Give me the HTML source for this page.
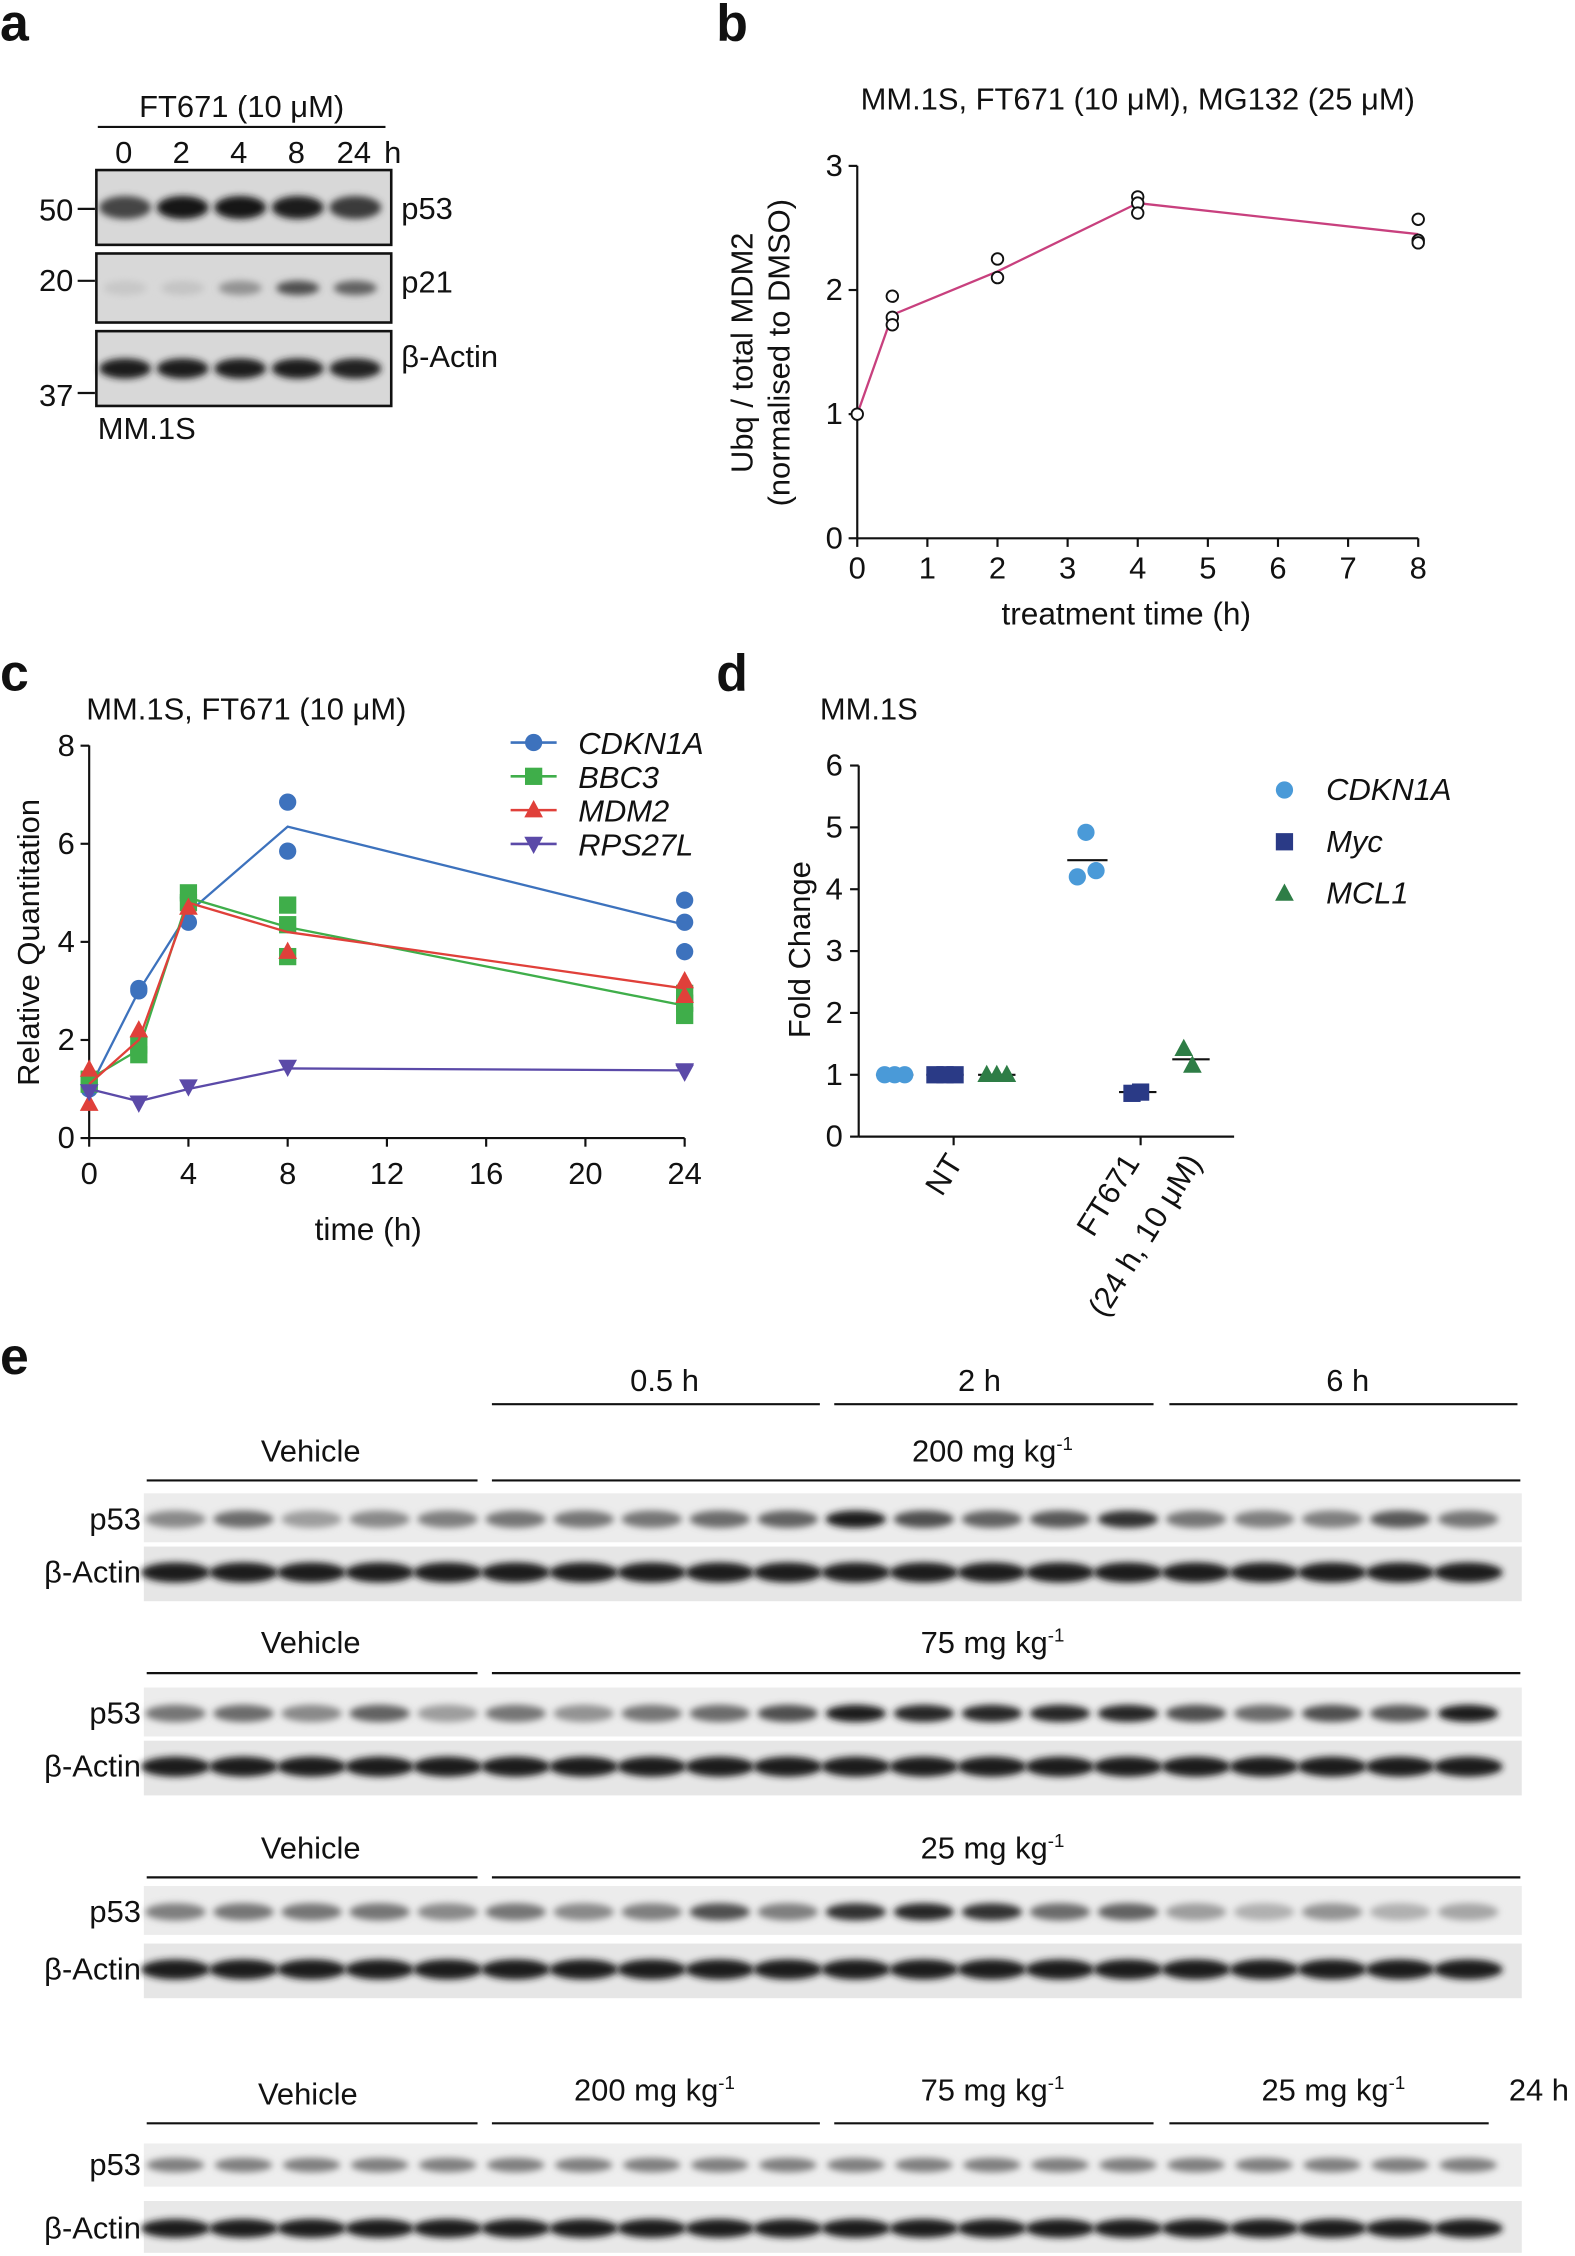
<!DOCTYPE html>
<html><head><meta charset="utf-8"><style>
html,body{margin:0;padding:0;background:#fff}
svg{display:block}
text{font-family:"Liberation Sans",sans-serif;fill:#111}
</style></head><body>
<svg id="s" width="1575" height="2256" viewBox="0 0 1095 1568" xmlns="http://www.w3.org/2000/svg">
<defs>
<filter id="bl" x="-50%" y="-100%" width="200%" height="300%"><feGaussianBlur stdDeviation="2.4"/></filter>
</defs>
<g id="g"></g>
</svg>
<script>
const g=document.getElementById('g');let h='';
function T(x,y,t,sz,anc,ext){h+=`<text x="${x}" y="${y}" font-size="${sz}" text-anchor="${anc||'start'}" ${ext||''}>${t}</text>`;}
function L(x1,y1,x2,y2,c,w){h+=`<line x1="${x1}" y1="${y1}" x2="${x2}" y2="${y2}" stroke="${c||'#111'}" stroke-width="${w||1.5}"/>`;}
function band(cx,cy,rx,ry,d){const v=Math.round(215-d*195);h+=`<ellipse cx="${cx}" cy="${cy}" rx="${rx}" ry="${ry}" fill="rgb(${v},${v},${v})" filter="url(#bl)"/>`;}
T(0,28,'a',36,'start','font-weight="bold"');T(498,28,'b',36,'start','font-weight="bold"');
T(0,480,'c',36,'start','font-weight="bold"');T(498,480,'d',36,'start','font-weight="bold"');
T(0,955,'e',36,'start','font-weight="bold"');
// panel a
T(168,81,'FT671 (10 μM)',21.5,'middle');L(68,88,268,88);
[0,2,4,8,24].forEach((t,i)=>T(86+i*40,113,t,21.5,'middle'));T(273,113,'h',21.5,'middle');
const rows=[[118,170,[.75,1,.98,.97,.8],18,8],[176,224,[.08,.1,.35,.7,.6],15,5],[230,282,[.95,.95,.95,.95,.93],18,7]];
rows.forEach(r=>{h+=`<rect x="67" y="${r[0]}" width="205" height="${r[1]-r[0]}" fill="#d8d8d8" stroke="#111" stroke-width="1.8"/>`;
 r[2].forEach((d,i)=>band(87+i*40,(r[0]+r[1])/2,r[3],r[4],d));});
T(51,153,'50',21.5,'end');L(54,145,66,145);T(51,202,'20',21.5,'end');L(54,195,66,195);T(51,282,'37',21.5,'end');L(54,273,66,273);
T(279,152,'p53',21.5);T(279,203,'p21',21.5);T(279,255,'β-Actin',21.5);T(68,305,'MM.1S',21.5);
// panel b
T(791,76,'MM.1S, FT671 (10 μM), MG132 (25 μM)',21.5,'middle');
const bx=v=>596+v*48.75, by=v=>374-v*86.3;
L(596,115,596,374);L(596,374,986,374);
for(let i=0;i<=3;i++){L(590,by(i),596,by(i));T(586,by(i)+7,i,21.5,'end');}
for(let i=0;i<=8;i++){L(bx(i),374,bx(i),380);T(bx(i),402,i,21.5,'middle');}
T(783,434,'treatment time (h)',22,'middle');
h+=`<text transform="translate(523,245) rotate(-90)" font-size="21.5" text-anchor="middle">Ubq / total MDM2</text>`;
h+=`<text transform="translate(549,245) rotate(-90)" font-size="21.5" text-anchor="middle">(normalised to DMSO)</text>`;
h+=`<polyline fill="none" stroke="#c8407e" stroke-width="1.6" points="${bx(0)},${by(1)} ${bx(.5)},${by(1.8)} ${bx(2)},${by(2.15)} ${bx(4)},${by(2.7)} ${bx(8)},${by(2.45)}"/>`;
[[0,1],[.5,1.95],[.5,1.78],[.5,1.72],[2,2.25],[2,2.1],[4,2.75],[4,2.7],[4,2.62],[8,2.57],[8,2.4],[8,2.38]].forEach(p=>h+=`<circle cx="${bx(p[0])}" cy="${by(p[1])}" r="4" fill="#fff" stroke="#111" stroke-width="1.3"/>`);
// panel c
T(60,500,'MM.1S, FT671 (10 μM)',21.5);
const cx=v=>62+v*17.25, cy=v=>791-v*34.1;
L(62,518,62,791);L(62,791,476,791);
for(let i=0;i<=8;i+=2){L(56,cy(i),62,cy(i));T(52,cy(i)+7,i,21.5,'end');}
for(let i=0;i<=24;i+=4){L(cx(i),791,cx(i),797);T(cx(i),823,i,21.5,'middle');}
T(256,862,'time (h)',22,'middle');
h+=`<text transform="translate(27,655) rotate(-90)" font-size="21.5" text-anchor="middle">Relative Quantitation</text>`;
function mk(t,x,y,c){if(t==0)h+=`<circle cx="${x}" cy="${y}" r="6" fill="${c}"/>`;
 else if(t==1)h+=`<rect x="${x-6}" y="${y-6}" width="12" height="12" fill="${c}"/>`;
 else if(t==2)h+=`<polygon points="${x},${y-7} ${x-6.5},${y+5} ${x+6.5},${y+5}" fill="${c}"/>`;
 else h+=`<polygon points="${x},${y+7} ${x-6.5},${y-5} ${x+6.5},${y-5}" fill="${c}"/>`;}
const S=[['#3d72bd',[[0,1],[2,3],[4,4.6],[8,6.35],[24,4.35]],[[0,1],[0,1.1],[2,3],[2,3.05],[4,4.4],[4,4.9],[8,6.85],[8,5.85],[24,4.85],[24,4.4],[24,3.8]]],
['#3fae4a',[[0,1.2],[2,1.8],[4,4.9],[8,4.3],[24,2.7]],[[0,1.1],[0,1.2],[2,1.7],[2,1.9],[4,4.8],[4,5],[8,4.75],[8,4.35],[8,3.7],[24,2.95],[24,2.75],[24,2.5]]],
['#e0403a',[[0,1.1],[2,2],[4,4.8],[8,4.2],[24,3.05]],[[0,1.4],[0,.7],[2,2.2],[4,4.7],[8,3.8],[24,3.2],[24,2.9]]],
['#5b4aa8',[[0,1],[2,.75],[4,1],[8,1.42],[24,1.38]],[[0,.95],[2,.72],[4,1.05],[8,1.45],[24,1.38],[24,1.35]]]];
S.forEach((s,k)=>{h+=`<polyline fill="none" stroke="${s[0]}" stroke-width="1.6" points="${s[1].map(p=>cx(p[0])+','+cy(p[1])).join(' ')}"/>`;s[2].forEach(p=>mk(k,cx(p[0]),cy(p[1]),s[0]));});
['CDKN1A','BBC3','MDM2','RPS27L'].forEach((n,k)=>{const y=516+k*23.5;L(355,y,387,y,S[k][0],1.8);mk(k,371,y,S[k][0]);T(402,y+8,n,21.5,'start','font-style="italic"');});
// panel d
T(570,500,'MM.1S',21.5);
const dy=v=>790-v*43;
L(597,532,597,790);L(597,790,858,790);
for(let i=0;i<=6;i++){L(591,dy(i),597,dy(i));T(586,dy(i)+7,i,21.5,'end');}
L(663,790,663,796);L(793,790,793,796);
h+=`<text transform="translate(563,660) rotate(-90)" font-size="21.5" text-anchor="middle">Fold Change</text>`;
h+=`<text transform="translate(670,808) rotate(-58)" font-size="21.5" text-anchor="end">NT</text>`;
h+=`<text transform="translate(793,808) rotate(-58)" font-size="21.5" text-anchor="end">FT671</text>`;
h+=`<text transform="translate(836,808) rotate(-58)" font-size="21.5" text-anchor="end">(24 h, 10 μM)</text>`;
const dc=['#4a9ad8','#2a3a86','#2e7d46'];
[[622,[1,1,1]],[657,[1,1,1]],[693,[1,1,1]]].forEach((p,k)=>{L(p[0]-13,dy(1),p[0]+13,dy(1));[-7,0,7].forEach(o=>mk(k==0?0:k==1?1:2,p[0]+o,dy(1),dc[k]));});
L(742,dy(4.47),770,dy(4.47));mk(0,749,dy(4.2),dc[0]);mk(0,755,dy(4.92),dc[0]);mk(0,762,dy(4.3),dc[0]);
L(778,dy(.72),804,dy(.72));mk(1,787,dy(.7),dc[1]);mk(1,793,dy(.72),dc[1]);
L(815,dy(1.25),841,dy(1.25));mk(2,823,dy(1.42),dc[2]);mk(2,829,dy(1.15),dc[2]);
mk(0,893,549,dc[0]);T(922,556,'CDKN1A',21.5,'start','font-style="italic"');
mk(1,893,585,dc[1]);T(922,592,'Myc',21.5,'start','font-style="italic"');
mk(2,893,621,dc[2]);T(922,628,'MCL1',21.5,'start','font-style="italic"');
// panel e
const lx=i=>122+i*47.3;
T(462,967,'0.5 h',21.5,'middle');T(681,967,'2 h',21.5,'middle');T(937,967,'6 h',21.5,'middle');
L(342,976,570,976);L(580,976,802,976);L(813,976,1055,976);
function blot(labY,lab,lineY,pY,aY,pd){
 T(216,labY,'Vehicle',21.5,'middle');T(690,labY,lab,21.5,'middle');L(102,lineY,332,lineY);L(342,lineY,1057,lineY);
 h+=`<rect x="100" y="${pY-18}" width="958" height="34" fill="#ececec"/>`;
 h+=`<rect x="100" y="${aY-18}" width="958" height="38" fill="#e6e6e6"/>`;
 pd.forEach((d,i)=>band(lx(i),pY,21,6,d));for(let i=0;i<20;i++)band(lx(i),aY,24,7,.97);
 T(98,pY+7,'p53',21.5,'end');T(98,aY+7,'β-Actin',21.5,'end');}
blot(1016,'200 mg kg<tspan font-size="13" dy="-8">-1</tspan>',1029,1056,1093,[.4,.55,.3,.4,.45,.5,.5,.5,.55,.6,.95,.7,.6,.65,.85,.5,.45,.45,.65,.5]);
blot(1149,'75 mg kg<tspan font-size="13" dy="-8">-1</tspan>',1163,1191,1228,[.5,.55,.4,.6,.3,.5,.35,.5,.55,.7,.95,.9,.9,.9,.9,.7,.55,.7,.65,.95]);
blot(1292,'25 mg kg<tspan font-size="13" dy="-8">-1</tspan>',1305,1329,1369,[.45,.5,.5,.5,.4,.5,.4,.45,.7,.45,.85,.9,.85,.55,.6,.3,.2,.35,.2,.25]);
T(214,1463,'Vehicle',21.5,'middle');T(455,1460,'200 mg kg<tspan font-size="13" dy="-8">-1</tspan>',21.5,'middle');
T(690,1460,'75 mg kg<tspan font-size="13" dy="-8">-1</tspan>',21.5,'middle');T(927,1460,'25 mg kg<tspan font-size="13" dy="-8">-1</tspan>',21.5,'middle');
T(1049,1460,'24 h',21.5);
L(102,1476,332,1476);L(342,1476,570,1476);L(580,1476,802,1476);L(813,1476,1035,1476);
h+=`<rect x="100" y="1490" width="958" height="30" fill="#eeeeee"/><rect x="100" y="1530" width="958" height="36" fill="#e8e8e8"/>`;
for(let i=0;i<20;i++){band(lx(i),1505,20,5,.45);band(lx(i),1549,24,6.5,.97);}
T(98,1512,'p53',21.5,'end');T(98,1556,'β-Actin',21.5,'end');
g.innerHTML=h;
</script>
</body></html>
